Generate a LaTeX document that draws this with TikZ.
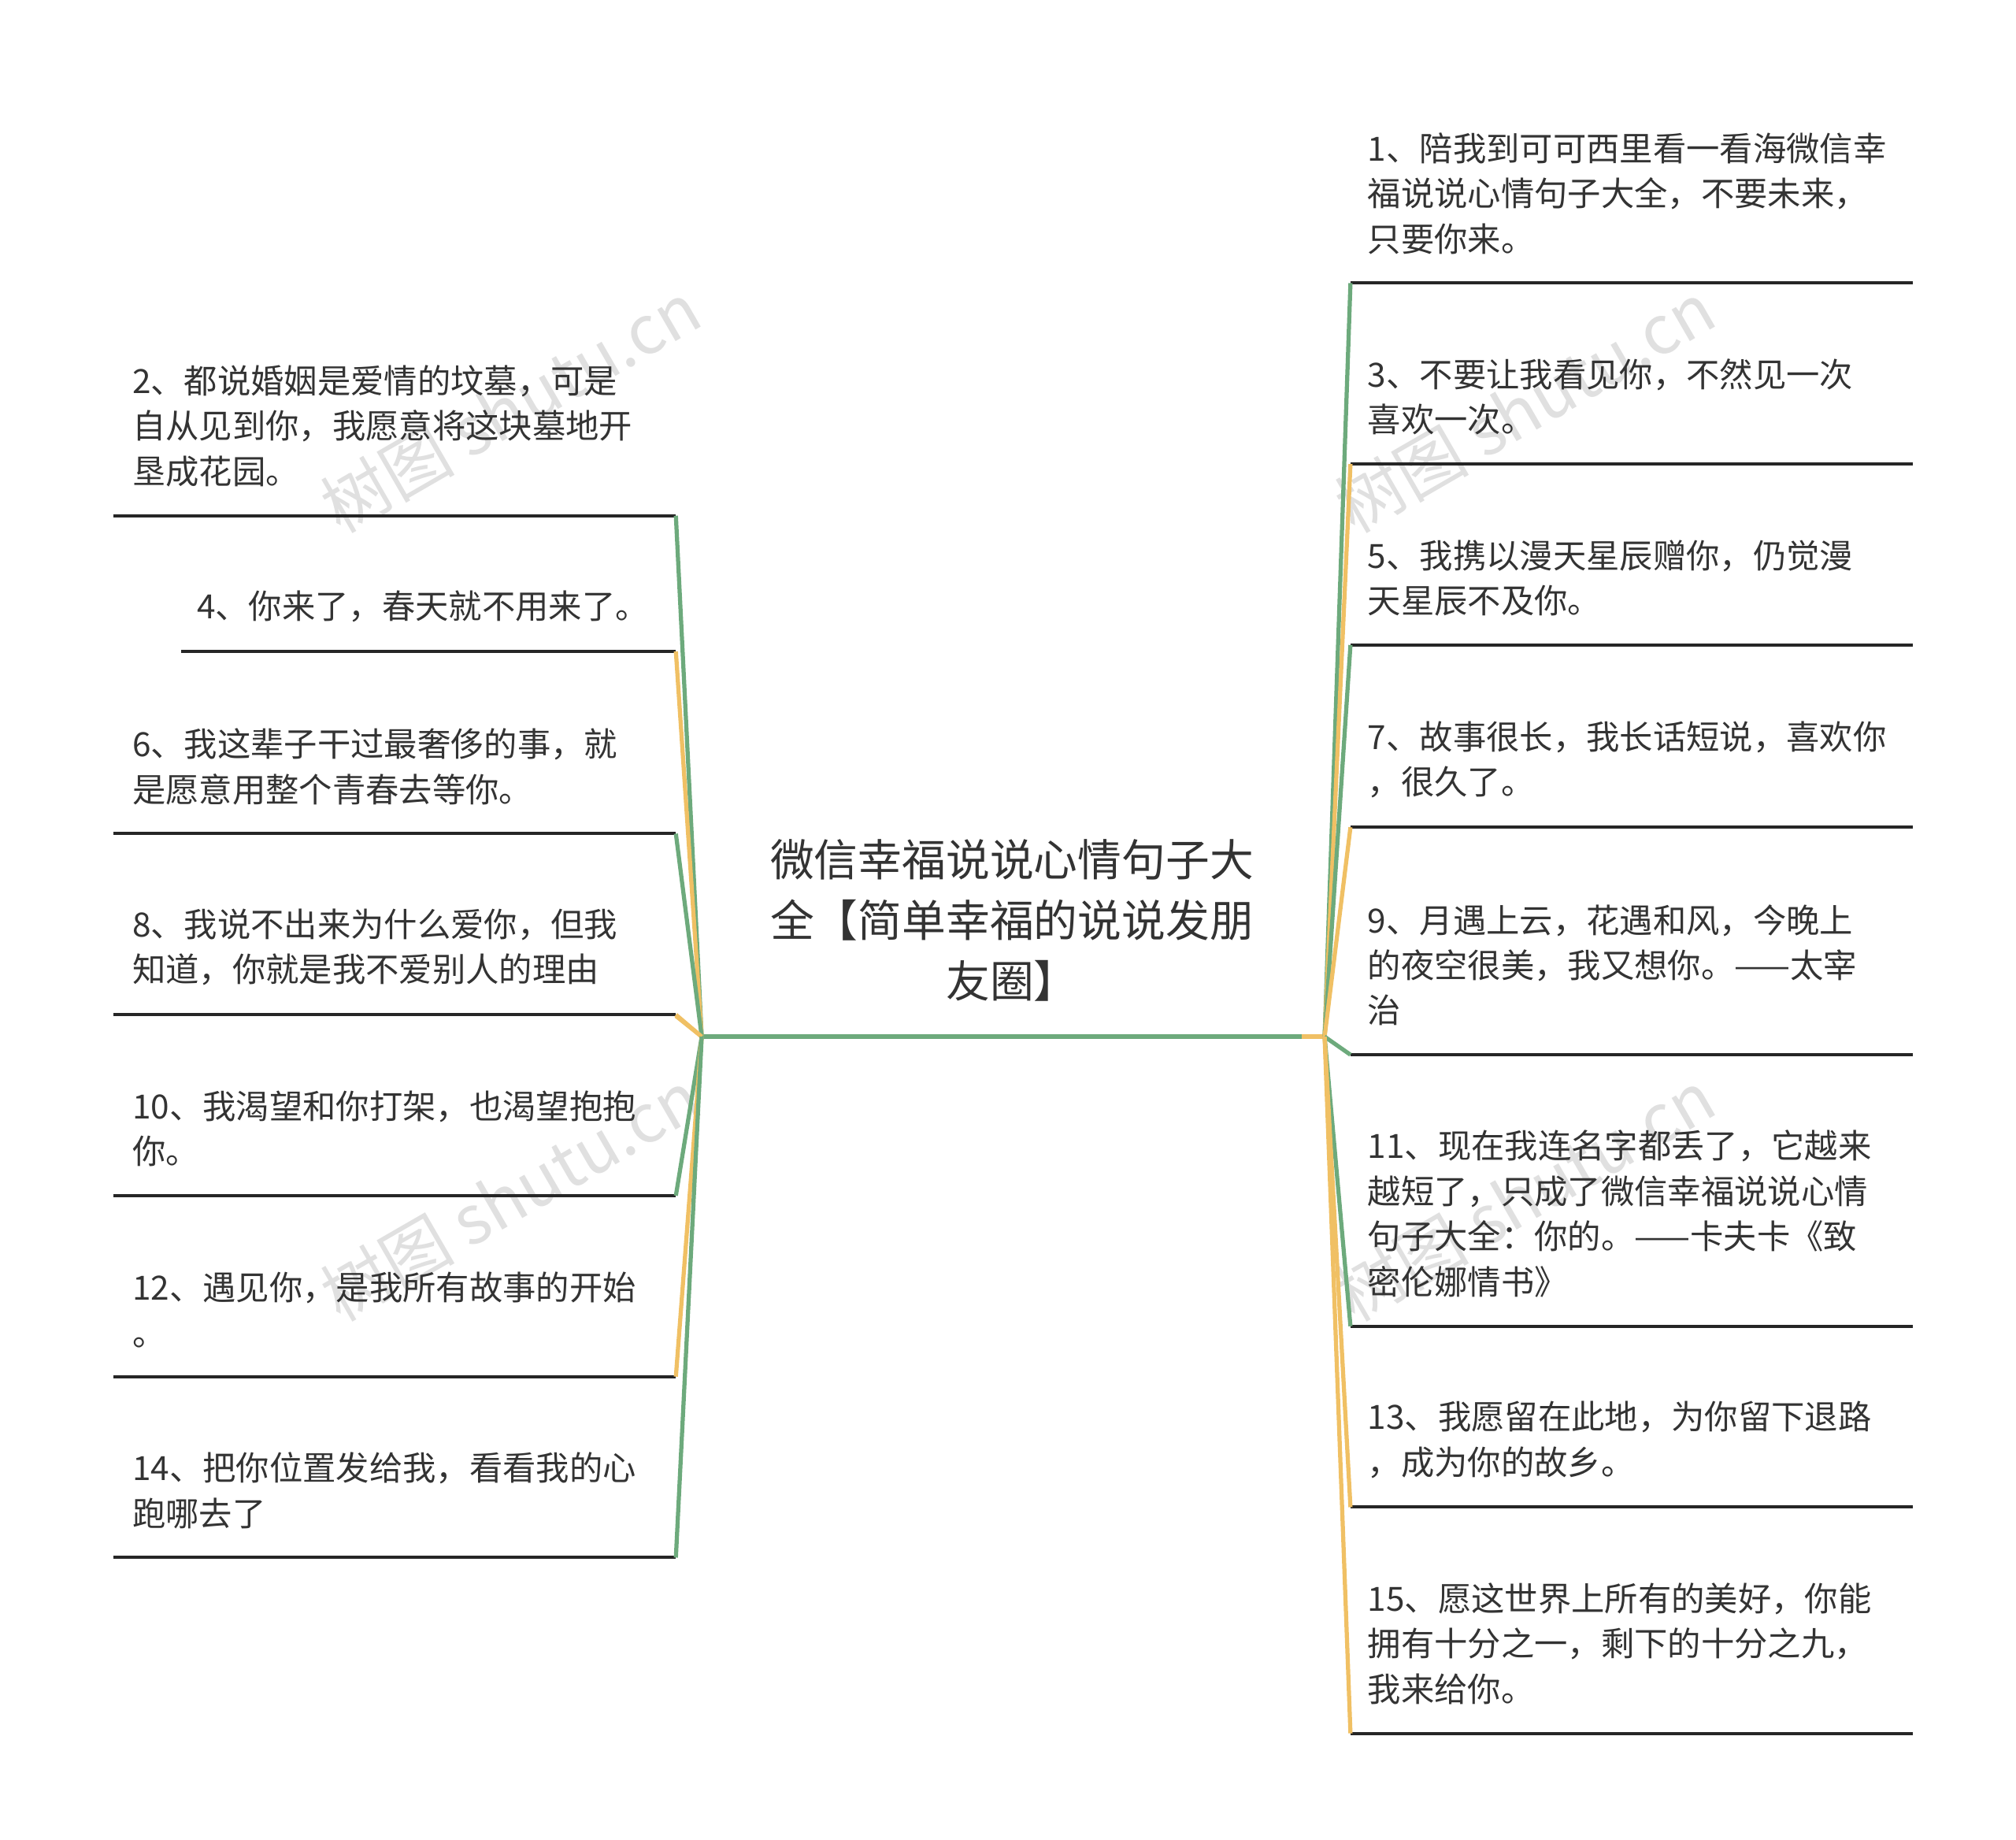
\documentclass[tikz,border=0pt]{standalone}
\usepackage{fontspec}
\newfontfamily\cjk{Noto Sans CJK SC}
\definecolor{gr}{HTML}{6DAA7C}
\definecolor{og}{HTML}{F0C064}
\begin{document}
\begin{tikzpicture}[x=0.5pt,y=-0.5pt,
  txt/.style={anchor=south west,inner sep=0pt,align=left,font=\cjk\fontsize{12.9}{17.5}\selectfont,text=black!80},
  uline/.style={line width=1.2pt,black!85},
  gcon/.style={gr,line width=1.6pt},
  ocon/.style={og,line width=1.6pt},
  wm/.style={font=\cjk\fontsize{26}{26}\selectfont,text=black!12,rotate=30}]
\useasboundingbox (0,0) rectangle (1560,1423);
\node[wm] (w1) at (395,315) {树图 shutu.cn};
\node[wm] (w2) at (1180,315) {树图 shutu.cn};
\node[wm] (w3) at (395,925) {树图 shutu.cn};
\node[wm] (w4) at (1180,925) {树图 shutu.cn};
\node[align=center,inner sep=0pt,font=\cjk\fontsize{17}{23.5}\selectfont,text=black!80] (c) at (783,712) {微信幸福说说心情句子大\\全【简单幸福的说说发朋\\友圈】};
\coordinate (cl) at (543,802);
\coordinate (cr) at (1025,802);
\draw[gcon] (cl) -- (cr);
\draw[ocon] (cl) -- ++(-20,-16);
\draw[ocon] (cr) -- ++(-18,0);
% left
\foreach \n/\y/\xs/\xt/\c/\t in {
 2/399/88/102/gcon/{2、都说婚姻是爱情的坟墓，可是\\自从见到你，我愿意将这块墓地开\\垦成花园。},
 4/504/140/152/ocon/{4、你来了，春天就不用来了。},
 6/645/88/102/gcon/{6、我这辈子干过最奢侈的事，就\\是愿意用整个青春去等你。},
 8/785/88/102/ocon/{8、我说不出来为什么爱你，但我\\知道，你就是我不爱别人的理由},
 10/925/88/102/gcon/{10、我渴望和你打架，也渴望抱抱\\你。},
 12/1065/88/102/ocon/{12、遇见你，是我所有故事的开始\\。},
 14/1205/88/102/gcon/{14、把你位置发给我，看看我的心\\跑哪去了}}{
 \coordinate (ls\n) at (\xs,\y);
 \coordinate (le\n) at (523,\y);
 \draw[uline] (ls\n) -- (le\n);
 \draw[\c] (cl) -- (le\n);
 \node[txt] (lt\n) at (\xt,\y-22) {\t};
}
% right
\foreach \n/\y/\c/\t in {
 1/219/gcon/{1、陪我到可可西里看一看海微信幸\\福说说心情句子大全，不要未来，\\只要你来。},
 3/359/ocon/{3、不要让我看见你，不然见一次\\喜欢一次。},
 5/499/gcon/{5、我携以漫天星辰赠你，仍觉漫\\天星辰不及你。},
 7/640/ocon/{7、故事很长，我长话短说，喜欢你\\，很久了。},
 9/816/gcon/{9、月遇上云，花遇和风，今晚上\\的夜空很美，我又想你。——太宰\\治},
 11/1026/gcon/{11、现在我连名字都丢了，它越来\\越短了，只成了微信幸福说说心情\\句子大全：你的。——卡夫卡《致\\密伦娜情书》},
 13/1166/ocon/{13、我愿留在此地，为你留下退路\\，成为你的故乡。},
 15/1341/ocon/{15、愿这世界上所有的美好，你能\\拥有十分之一，剩下的十分之九，\\我来给你。}}{
 \coordinate (rs\n) at (1045,\y);
 \coordinate (re\n) at (1480,\y);
 \draw[uline] (rs\n) -- (re\n);
 \draw[\c] (cr) -- (rs\n);
 \node[txt] (rt\n) at (1058,\y-22) {\t};
}
\end{tikzpicture}
\end{document}
